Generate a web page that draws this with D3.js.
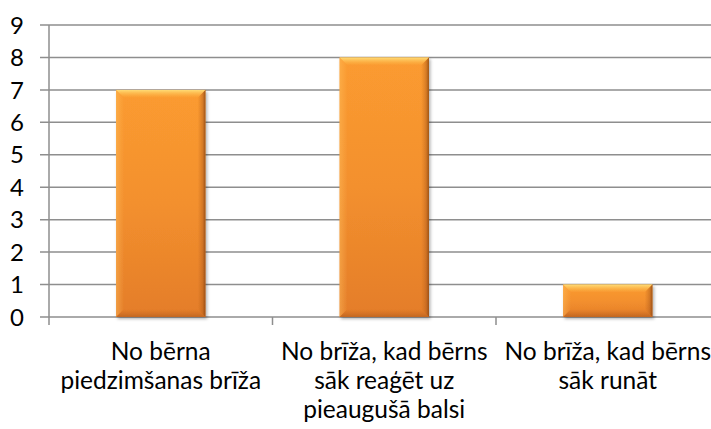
<!DOCTYPE html>
<html>
<head>
<meta charset="utf-8">
<script src="https://cdn.jsdelivr.net/npm/d3@7"></script>
<style>
  body { margin: 0; background: #fff; }
  text { font-family: Lato, "Open Sans", sans-serif; fill: #000; }
</style>
</head>
<body>
<div id="chart"></div>
<script>
// Chart data
var categories = [
    "No bērna piedzimšanas brīža",
    "No brīža, kad bērns sāk reaģēt uz pieaugušā balsi",
    "No brīža, kad bērns sāk runāt"
];
var labelLines = [
    ["No bērna", "piedzimšanas brīža"],
    ["No brīža, kad bērns", "sāk reaģēt uz", "pieaugušā balsi"],
    ["No brīža, kad bērns", "sāk runāt"]
];
var values = [7, 8, 1];
var yTicks = [0, 1, 2, 3, 4, 5, 6, 7, 8, 9];

var WIDTH = 711, HEIGHT = 429;
var LEFT = 49, BAND = 223.5, TOP = 25, BOTTOM = 317;

var svg = d3.select('#chart')
    .append('svg')
    .attr('width', WIDTH)
    .attr('height', HEIGHT);

var defs = svg.append('defs');

// Helper to build a two-stop gradient
var addGradient = function addGradient(id, dir, stops) {
    var g = defs.append('linearGradient').attr('id', id);
    if (dir === 'down') g.attr('x1', 0).attr('y1', 0).attr('x2', 0).attr('y2', 1);
    if (dir === 'up') g.attr('x1', 0).attr('y1', 1).attr('x2', 0).attr('y2', 0);
    if (dir === 'right') g.attr('x1', 0).attr('y1', 0).attr('x2', 1).attr('y2', 0);
    if (dir === 'left') g.attr('x1', 1).attr('y1', 0).attr('x2', 0).attr('y2', 0);
    stops.forEach(function(s) {
        g.append('stop')
            .attr('offset', s[0])
            .attr('stop-color', s[1])
            .attr('stop-opacity', s[2]);
    });
};

addGradient('barFill', 'down', [['0%', '#fb9b30', 1], ['50%', '#f3902e', 1], ['100%', '#e47d29', 1]]);
addGradient('topBevel', 'down', [['0%', '#ffe07a', 0.95], ['100%', '#ffc250', 0.0]]);
addGradient('leftBevel', 'right', [['0%', '#ffc060', 0.45], ['100%', '#ffc060', 0.0]]);
addGradient('rightBevel', 'left', [['0%', '#8a4510', 0.85], ['35%', '#a8561a', 0.45], ['100%', '#c0651f', 0.0]]);
addGradient('bottomBevel', 'up', [['0%', '#a4531a', 0.55], ['100%', '#c0651f', 0.0]]);

var shadow = defs.append('filter')
    .attr('id', 'shadow')
    .attr('x', '-10%').attr('y', '-10%')
    .attr('width', '130%').attr('height', '130%');
shadow.append('feDropShadow')
    .attr('dx', 1.5).attr('dy', 2)
    .attr('stdDeviation', 1.8)
    .attr('flood-color', '#000')
    .attr('flood-opacity', 0.3);

var x = d3.scaleBand()
    .domain(categories)
    .range([LEFT, LEFT + BAND * categories.length])
    .paddingInner(0.6)
    .paddingOuter(0.3);

var y = d3.scaleLinear()
    .domain([0, 9])
    .range([BOTTOM, TOP]);

// Gridlines
svg.append('g').selectAll('line').data(yTicks)
    .enter().append('line')
    .attr('x1', LEFT - 9)
    .attr('x2', WIDTH)
    .attr('y1', function(d) { return y(d); })
    .attr('y2', function(d) { return y(d); })
    .style('stroke', '#8e8e8e')
    .style('stroke-width', 1.5);

// Y axis line
svg.append('line')
    .attr('x1', LEFT).attr('x2', LEFT)
    .attr('y1', y(9)).attr('y2', BOTTOM + 8)
    .style('stroke', '#8e8e8e')
    .style('stroke-width', 1.5);

// Category separator ticks
svg.append('g').selectAll('line').data(d3.range(1, categories.length + 1))
    .enter().append('line')
    .attr('x1', function(i) { return LEFT + BAND * i; })
    .attr('x2', function(i) { return LEFT + BAND * i; })
    .attr('y1', BOTTOM)
    .attr('y2', BOTTOM + 8)
    .style('stroke', '#8e8e8e')
    .style('stroke-width', 1.5);

// Y tick labels
svg.append('g').selectAll('text').data(yTicks)
    .enter().append('text')
    .attr('x', 24)
    .attr('y', function(d) { return y(d); })
    .attr('dy', '0.36em')
    .attr('text-anchor', 'end')
    .style('font-size', '24px')
    .text(function(d) { return d; });

// Bars with bevel
var bars = svg.append('g').selectAll('g.bar').data(values)
    .enter().append('g')
    .classed('bar', true)
    .attr('filter', 'url(#shadow)');

var bevel = function bevel(d) { return Math.min(8, (y(0) - y(d)) / 3); };

bars.append('rect')
    .attr('x', function(d, i) { return x(categories[i]); })
    .attr('y', function(d) { return y(d); })
    .attr('width', x.bandwidth())
    .attr('height', function(d) { return y(0) - y(d); })
    .style('fill', 'url(#barFill)');

var facets = ['top', 'left', 'right', 'bottom'];

facets.forEach(function(f) {
    bars.append('path')
        .attr('d', function(d, i) {
            var x0 = x(categories[i]), x1 = x0 + x.bandwidth();
            var y0 = y(d), y1 = y(0), b = bevel(d);
            var p;
            if (f === 'top') p = [[x0, y0], [x1, y0], [x1 - b, y0 + b], [x0 + b, y0 + b]];
            if (f === 'left') p = [[x0, y0], [x0 + b, y0 + b], [x0 + b, y1 - b], [x0, y1]];
            if (f === 'right') p = [[x1, y0], [x1, y1], [x1 - b, y1 - b], [x1 - b, y0 + b]];
            if (f === 'bottom') p = [[x0, y1], [x0 + b, y1 - b], [x1 - b, y1 - b], [x1, y1]];
            return 'M' + p.join('L') + 'Z';
        })
        .style('fill', 'url(#' + f + 'Bevel)');
});

// Category labels
var labels = svg.append('g').selectAll('text').data(labelLines)
    .enter().append('text')
    .attr('text-anchor', 'middle')
    .attr('x', function(d, i) { return x(categories[i]) + x.bandwidth() / 2; })
    .attr('y', 360)
    .style('font-size', '24.5px');

labels.selectAll('tspan').data(function(d) { return d; })
    .enter().append('tspan')
    .attr('x', function() { return d3.select(this.parentNode).attr('x'); })
    .attr('dy', function(d, j) { return j === 0 ? 0 : 29; })
    .text(function(d) { return d; });
</script>
</body>
</html>
